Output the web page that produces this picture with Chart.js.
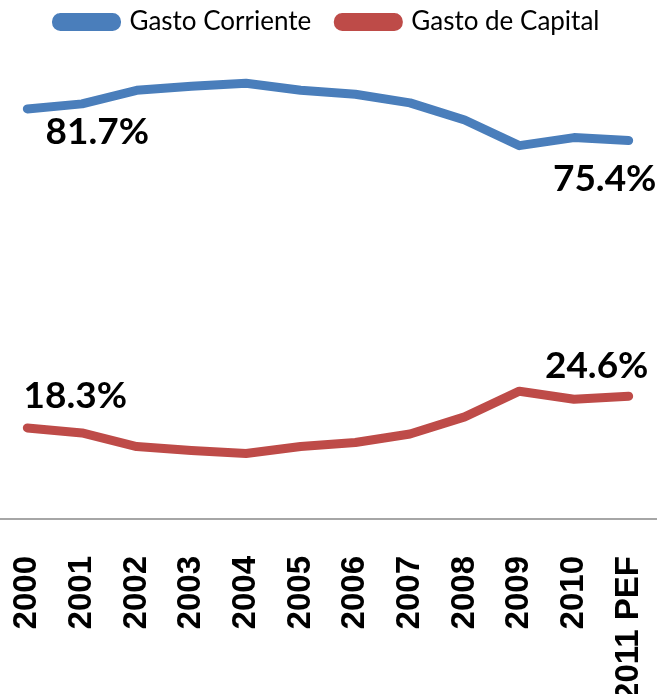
<!DOCTYPE html>
<html>
<head>
<meta charset="utf-8">
<script src="https://cdn.jsdelivr.net/npm/chart.js@4.4.0/dist/chart.umd.min.js"></script>
<style>
  html, body { margin: 0; padding: 0; background: #fff; }
  #wrap { width: 659px; height: 694px; }
</style>
</head>
<body>
<div id="wrap"><canvas id="gastoChart"></canvas></div>
<script>
// categorias y valores (%)
var years = ['2000', '2001', '2002', '2003', '2004', '2005', '2006', '2007', '2008', '2009', '2010', '2011 PEF'];
var gastoCorriente = [81.7, 82.7, 85.4, 86.2, 86.8, 85.4, 84.6, 82.9, 79.5, 74.4, 76.0, 75.4];
var gastoCapital = [18.3, 17.3, 14.6, 13.8, 13.2, 14.6, 15.4, 17.1, 20.5, 25.6, 24.0, 24.6];

const ctx = document.getElementById('gastoChart');

// etiquetas del primer y ultimo punto
const endLabels = {
   id: 'endLabels',
   afterDatasetsDraw: function(chart) {
      var c = chart.ctx;
      c.save();
      c.font = 'bold 37px Lato';
      c.fillStyle = '#000';
      c.textAlign = 'center';
      c.textBaseline = 'middle';
      var spots = [
         { ds: 0, i: 0, dx: 70, dy: 23 },
         { ds: 0, i: years.length - 1, dx: -24, dy: 38 },
         { ds: 1, i: 0, dx: 48, dy: -32 },
         { ds: 1, i: years.length - 1, dx: -32, dy: -30 }
      ];
      spots.forEach(function(s) {
         var pt = chart.getDatasetMeta(s.ds).data[s.i];
         var v = chart.data.datasets[s.ds].data[s.i];
         c.fillText(v.toFixed(1) + '%', pt.x + s.dx, pt.y + s.dy);
      });
      c.restore();
   }
};

new Chart(ctx, {
   type: 'line',
   data: {
      labels: years,
      datasets: [{
         label: 'Gasto Corriente',
         data: gastoCorriente,
         borderColor: '#4A7EBB',
         backgroundColor: '#4A7EBB',
         borderWidth: 9,
         pointRadius: 0,
         borderCapStyle: 'round',
         borderJoinStyle: 'round',
         tension: 0
      }, {
         label: 'Gasto de Capital',
         data: gastoCapital,
         borderColor: '#BE4B48',
         backgroundColor: '#BE4B48',
         borderWidth: 9,
         pointRadius: 0,
         borderCapStyle: 'round',
         borderJoinStyle: 'round',
         tension: 0
      }]
   },
   options: {
      responsive: true,
      maintainAspectRatio: false,
      animation: false,
      layout: { padding: { left: 0, right: 3, top: -18, bottom: 0 } },
      plugins: {
         legend: {
            position: 'top',
            labels: {
               font: { family: 'Lato', size: 26 },
               color: '#000',
               boxWidth: 60,
               boxHeight: 9,
               useBorderRadius: true,
               borderRadius: 4,
               padding: 27
            }
         },
         tooltip: { enabled: false }
      },
      scales: {
         x: {
            offset: true,
            grid: { display: false, drawTicks: false },
            border: { display: true, color: '#A6A6A6', width: 2 },
            ticks: {
               minRotation: 90,
               maxRotation: 90,
               autoSkip: false,
               padding: 37,
               color: '#000',
               font: { family: 'Liberation Sans', size: 33, weight: 'bold' }
            },
            afterFit: function(scale) {
               // las etiquetas se cortan abajo como en el original
               scale.height = 175;
               scale.paddingLeft = 0;
               scale.paddingRight = 0;
            }
         },
         y: {
            display: false,
            min: 0.2,
            max: 94.4
         }
      }
   },
   plugins: [endLabels]
});
</script>
</body>
</html>
